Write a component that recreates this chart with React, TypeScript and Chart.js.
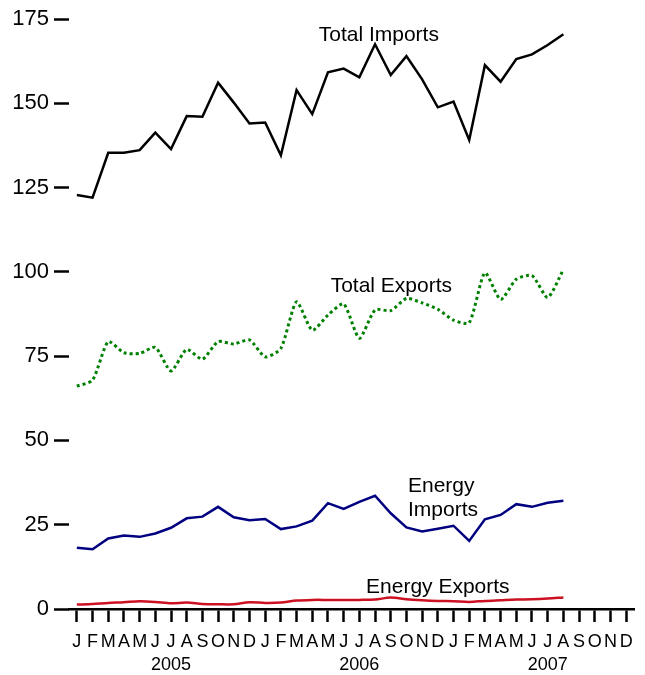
import React, { useEffect, useRef } from 'react';
import { Chart, registerables } from 'chart.js';

Chart.register(...registerables);

const monthLetters = ['J', 'F', 'M', 'A', 'M', 'J', 'J', 'A', 'S', 'O', 'N', 'D'];
const years = ['2005', '2006', '2007'];
const yTickValues = [0, 25, 50, 75, 100, 125, 150, 175];

const totalImports = [122.8, 122.0, 135.3, 135.3, 136.1, 141.3, 136.4, 146.2, 146.0, 156.1, 150.2, 144.0, 144.3, 134.6, 153.9, 146.8, 159.2, 160.3, 157.7, 167.5, 158.4, 164.0, 157.1, 148.8, 150.5, 139.1, 161.3, 156.4, 163.1, 164.5, 167.3, 170.5];
const totalExports = [66.1, 67.9, 79.3, 76.0, 75.8, 77.6, 70.6, 77.0, 74.1, 79.3, 78.6, 79.8, 74.8, 77.3, 91.1, 82.7, 87.2, 90.5, 80.3, 88.7, 88.5, 92.1, 90.8, 88.9, 85.7, 84.9, 99.7, 91.8, 97.8, 98.9, 92.4, 100.7];
const energyImports = [18.2, 17.7, 20.9, 21.8, 21.4, 22.4, 24.1, 26.9, 27.4, 30.3, 27.2, 26.3, 26.7, 23.7, 24.5, 26.2, 31.4, 29.7, 31.8, 33.6, 28.4, 24.2, 23.0, 23.8, 24.7, 20.2, 26.6, 27.9, 31.1, 30.3, 31.5, 32.1];
const energyExports = [1.3, 1.5, 1.8, 2.0, 2.3, 2.1, 1.7, 1.9, 1.5, 1.4, 1.4, 2.0, 1.8, 1.9, 2.5, 2.7, 2.7, 2.7, 2.7, 2.8, 3.4, 2.9, 2.6, 2.4, 2.3, 2.1, 2.4, 2.6, 2.8, 2.9, 3.1, 3.4];

// In-plot series labels, positioned in data coordinates (category index, value)
const seriesLabels = [
  { text: 'Total Imports', x: 19.24, y: 168.5, align: 'center' },
  { text: 'Total Exports', x: 20.04, y: 94.1, align: 'center' },
  { text: 'Energy', x: 21.1, y: 34.8, align: 'left' },
  { text: 'Imports', x: 21.1, y: 27.7, align: 'left' },
  { text: 'Energy Exports', x: 23.0, y: 4.75, align: 'center' },
];

const FONT = '"Liberation Sans", Arial, Helvetica, sans-serif';

const categories: (string[])[] = [];
years.forEach((yr) => {
  monthLetters.forEach((m, i) => {
    categories.push(i === 6 ? [m, yr] : [m, '']);
  });
});

const labelPlugin = {
  id: 'seriesLabels',
  afterDatasetsDraw(chart: any) {
    const { ctx, scales } = chart;
    const xs = scales.x;
    const ys = scales.y;
    ctx.save();
    ctx.font = `21px ${FONT}`;
    ctx.fillStyle = '#000000';
    ctx.textBaseline = 'alphabetic';
    seriesLabels.forEach((l) => {
      ctx.textAlign = l.align;
      ctx.fillText(l.text, xs.getPixelForValue(l.x), ys.getPixelForValue(l.y));
    });
    ctx.restore();
  },
};

export default function App() {
  const ref = useRef<HTMLCanvasElement | null>(null);

  useEffect(() => {
    document.body.style.margin = '0';
    const canvas = ref.current;
    if (!canvas) return;
    const chart = new Chart(canvas, {
      type: 'line',
      data: {
        labels: categories,
        datasets: [
          {
            label: 'Total Imports',
            data: totalImports,
            borderColor: '#000000',
            borderWidth: 2.5,
            pointRadius: 0,
            tension: 0,
            fill: false,
          },
          {
            label: 'Total Exports',
            data: totalExports,
            borderColor: '#008000',
            borderWidth: 3,
            borderDash: [3, 3],
            pointRadius: 0,
            tension: 0.22,
            fill: false,
          },
          {
            label: 'Energy Imports',
            data: energyImports,
            borderColor: '#000080',
            borderWidth: 2.5,
            pointRadius: 0,
            tension: 0,
            fill: false,
          },
          {
            label: 'Energy Exports',
            data: energyExports,
            borderColor: '#cc1122',
            borderWidth: 2.5,
            pointRadius: 0,
            tension: 0.3,
            fill: false,
          },
        ],
      },
      options: {
        responsive: false,
        animation: false,
        layout: { padding: { left: 0, right: 11, top: 19, bottom: 0 } },
        plugins: {
          legend: { display: false },
          tooltip: { enabled: false },
          title: { display: false },
        },
        scales: {
          x: {
            type: 'category',
            offset: true,
            afterFit: (s: any) => {
              s.height = 66;
            },
            grid: {
              display: true,
              drawOnChartArea: false,
              drawTicks: true,
              tickLength: 13,
              tickWidth: 2.5,
              tickColor: '#000000',
              offset: false,
            },
            border: { display: true, color: '#000000', width: 2.5 },
            ticks: {
              autoSkip: false,
              maxRotation: 0,
              minRotation: 0,
              padding: 9,
              color: '#000000',
              font: { family: FONT, size: 18, lineHeight: 1.278 },
            },
          },
          y: {
            min: 0,
            max: 175,
            afterFit: (s: any) => {
              s.width = 69;
            },
            afterBuildTicks: (s: any) => {
              s.ticks = yTickValues.map((v) => ({ value: v }));
            },
            grid: {
              display: true,
              drawOnChartArea: false,
              drawTicks: true,
              tickLength: 15,
              tickWidth: 2.5,
              tickColor: '#000000',
            },
            border: { display: false },
            ticks: {
              padding: 5,
              color: '#000000',
              font: { family: FONT, size: 22 },
            },
          },
        },
      },
      plugins: [labelPlugin],
    });
    return () => chart.destroy();
  }, []);

  return (
    <div style={{ width: 645, height: 675 }}>
      <canvas ref={ref} width={645} height={675} style={{ width: 645, height: 675, display: 'block' }} />
    </div>
  );
}
